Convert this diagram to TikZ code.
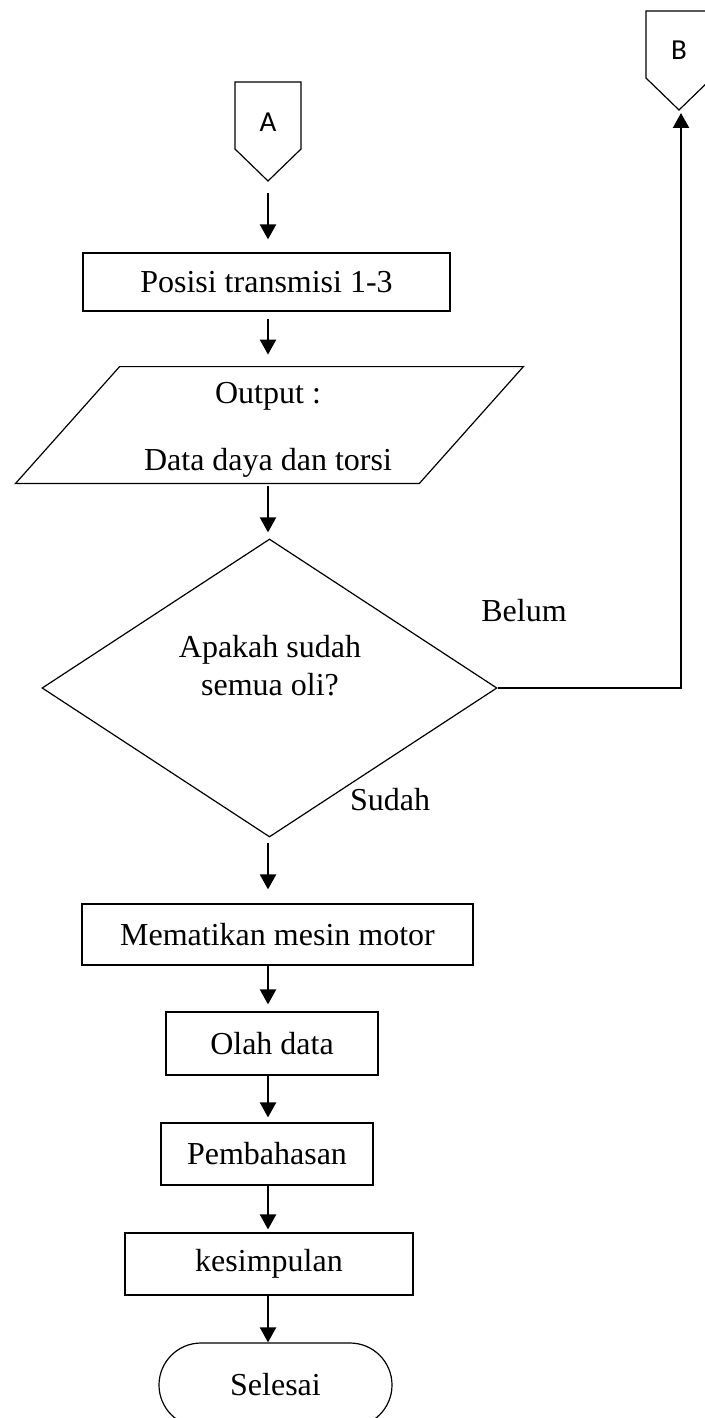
\documentclass[tikz,border=0pt]{standalone}
\usepackage{fontspec}
\setmainfont{Liberation Serif}
\newfontfamily\connfont{Carlito}
\usetikzlibrary{arrows.meta, shapes.geometric}

\begin{document}
\begin{tikzpicture}[x=0.5pt, y=-0.5pt,
    lbl/.style={font=\fontsize{16}{19}\selectfont},
    box/.style={lbl, draw, line width=0.6pt, inner sep=0pt},
    conn/.style={font=\connfont\fontsize{14.5}{17}\selectfont},
    flow/.style={line width=1.1pt, -{Triangle[length=7.5pt, width=8pt]}}]
  \useasboundingbox (0,0) rectangle (705,1418);
  \coordinate (axis) at (268,0);

  \draw[line width=0.6pt] (235,82) -- (301,82) -- (301,149) -- (268,181) -- (235,149) -- cycle;
  \node[conn] (A) at (268,122) {A};
  \coordinate (Atip) at (268,181);
  \draw[line width=0.6pt] (646,11) -- (712,11) -- (712,78) -- (679,110) -- (646,78) -- cycle;
  \node[conn] (B) at (679,50) {B};
  \coordinate (Btip) at (681,110);

  \node[box, minimum width=183.5pt, minimum height=29pt] (posisi) at (266.5,282) {Posisi transmisi 1-3};
  \node[minimum width=201.5pt, minimum height=58pt, inner sep=0pt] (out) at (269.5,425) {};
  \draw[line width=0.6pt] ([xshift=26pt]out.north west) -- ([xshift=26pt]out.north east)
    -- ([xshift=-26pt]out.south east) -- ([xshift=-26pt]out.south west) -- cycle;
  \node[lbl] (outa) at (268,396) {Output :};
  \node[lbl] (outb) at (268,463) {Data daya dan torsi};
  \node[draw, diamond, line width=0.6pt, minimum width=227.5pt, minimum height=149pt, inner sep=0pt] (dia) at (269.5,688) {};
  \node[lbl, align=center] (tanya) at (270,666) {Apakah sudah\\semua oli?};
  \node[lbl] (belum) at (524,611) {Belum};
  \node[lbl] (sudah) at (390,800) {Sudah};
  \node[box, minimum width=195.5pt, minimum height=30.5pt] (mesin) at (277.5,934.5) {Mematikan mesin motor};
  \node[box, minimum width=106pt, minimum height=31.5pt] (olah) at (272,1043.5) {Olah data};
  \node[box, minimum width=106pt, minimum height=31pt] (bahas) at (267,1154) {Pembahasan};
  \node[box, minimum width=144pt, minimum height=31pt] (simpul) at (269,1264) {kesimpulan};
  \node[box, rounded corners=21pt, minimum width=116.5pt, minimum height=42pt] (selesai) at (275.5,1385) {Selesai};

  \draw[flow, shorten <=6pt, shorten >=6.5pt] (Atip -| axis) -- (posisi.north -| axis);
  \draw[flow, shorten <=3.5pt, shorten >=6pt] (posisi.south -| axis) -- (out.north -| axis);
  \draw[flow, shorten <=1.5pt, shorten >=3pt] (out.south -| axis) -- (dia.north -| axis);
  \draw[flow, shorten <=2.5pt, shorten >=7pt] (dia.south -| axis) -- (mesin.north -| axis);
  \draw[flow, shorten >=3.5pt] (mesin.south -| axis) -- (olah.north -| axis);
  \draw[flow, shorten >=2.5pt] (olah.south -| axis) -- (bahas.north -| axis);
  \draw[flow, shorten >=1.5pt] (bahas.south -| axis) -- (simpul.north -| axis);
  \draw[flow] (simpul.south -| axis) -- (selesai.north -| axis);
  \draw[flow, shorten >=1.5pt] (dia.east) -| (Btip);
\end{tikzpicture}
\end{document}
